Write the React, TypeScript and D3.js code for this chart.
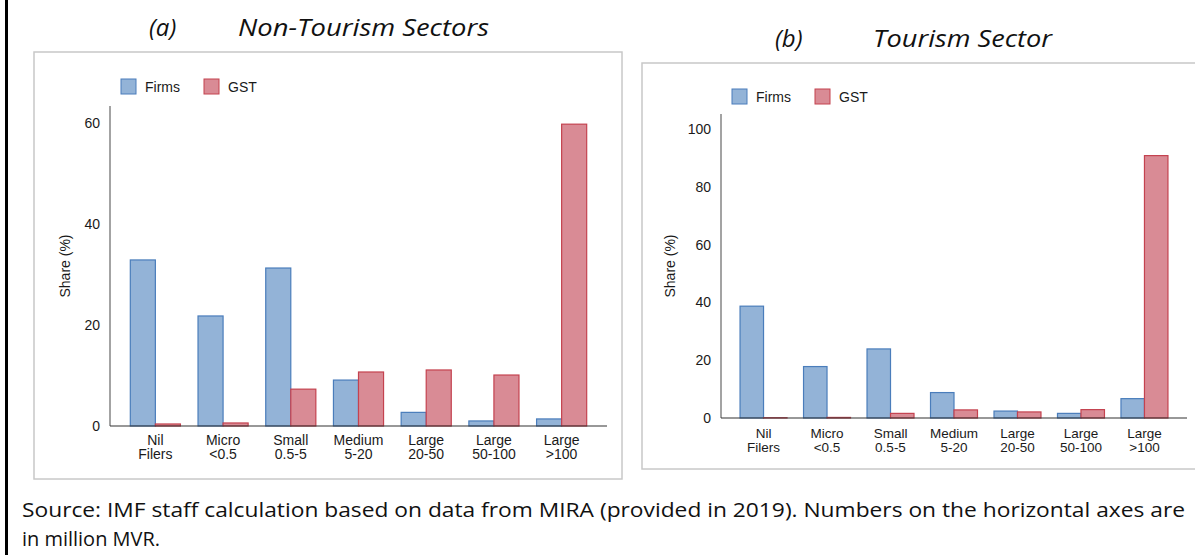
import React from "react";
import * as d3 from "d3";

// category labels (two lines each)
const categories = [
  ["Nil", "Filers"],
  ["Micro", "<0.5"],
  ["Small", "0.5-5"],
  ["Medium", "5-20"],
  ["Large", "20-50"],
  ["Large", "50-100"],
  ["Large", ">100"],
];
const seriesNames = ["Firms", "GST"];

// (a) non-tourism sectors, share (%)
const nonTourismFirms = [32.9, 21.8, 31.3, 9.1, 2.7, 1.0, 1.4];
const nonTourismGST = [0.4, 0.6, 7.3, 10.7, 11.1, 10.1, 59.8];
const nonTourismTicks = [0, 20, 40, 60];

// (b) tourism sector, share (%)
const tourismFirms = [38.7, 17.8, 23.9, 8.8, 2.4, 1.6, 6.7];
const tourismGST = [0.1, 0.2, 1.6, 2.8, 2.1, 2.9, 90.8];
const tourismTicks = [0, 20, 40, 60, 80, 100];

const fills = ["#93b3d7", "#d98b95"];
const strokes = ["#4a7dbb", "#c4424f"];

type PanelProps = {
  firms: number[];
  gst: number[];
  ticks: number[];
  yMax: number;
  box: [number, number, number, number];
  axisX: [number, number];
  axisY: [number, number];
  yTitleX: number;
  labelY: [number, number];
  labelSize: number;
  legend: [number, number];
};

function Panel(p: PanelProps) {
  const x0 = d3
    .scaleBand<number>()
    .domain(d3.range(categories.length))
    .range(p.axisX)
    .paddingInner(0.26)
    .paddingOuter(0.3);
  const x1 = d3
    .scaleBand<number>()
    .domain([0, 1])
    .range([0, x0.bandwidth()]);
  const y = d3.scaleLinear().domain([0, p.yMax]).range(p.axisY);
  const series = [p.firms, p.gst];
  const [bx, by, bw, bh] = p.box;
  const [lx, ly] = p.legend;

  return (
    <g fontFamily="'Liberation Sans', Arial, sans-serif" fill="#1a1a1a">
      <rect x={bx} y={by} width={bw} height={bh} fill="#fff" stroke="#c8c8c8" strokeWidth={1.5} />

      {/* legend */}
      {seriesNames.map((name, i) => (
        <g key={name} transform={`translate(${lx + i * 83},${ly})`}>
          <rect x={0} y={0} width={15} height={15} fill={fills[i]} stroke={strokes[i]} strokeWidth={1} />
          <text x={24} y={13} fontSize={14}>{name}</text>
        </g>
      ))}

      {/* bars */}
      {series.map((vals, s) =>
        vals.map((v, i) => (
          <rect
            key={`${s}-${i}`}
            x={(x0(i) as number) + (x1(s) as number)}
            y={y(v)}
            width={x1.bandwidth()}
            height={y(0) - y(v)}
            fill={fills[s]}
            stroke={strokes[s]}
            strokeWidth={1.2}
          />
        ))
      )}

      {/* axes */}
      <line x1={p.axisX[0]} x2={p.axisX[0]} y1={p.axisY[0]} y2={p.axisY[1]} stroke="#666" strokeWidth={1.2} />
      <line x1={p.axisX[0]} x2={p.axisX[1]} y1={y(0)} y2={y(0)} stroke="#333" strokeWidth={1.2} />

      {p.ticks.map((t) => (
        <text key={t} x={p.axisX[0] - 10} y={y(t)} dy="0.35em" textAnchor="end" fontSize={14}>
          {t}
        </text>
      ))}

      {categories.map((c, i) => {
        const cx = (x0(i) as number) + x0.bandwidth() / 2;
        return (
          <text key={i} textAnchor="middle" fontSize={p.labelSize}>
            <tspan x={cx} y={p.labelY[0]}>{c[0]}</tspan>
            <tspan x={cx} y={p.labelY[1]}>{c[1]}</tspan>
          </text>
        );
      })}

      <text
        transform={`translate(${p.yTitleX},266) rotate(-90)`}
        textAnchor="middle"
        dy="0.35em"
        fontSize={14}
      >
        Share (%)
      </text>
    </g>
  );
}

export default function App() {
  return (
    <svg
      width={1195}
      height={555}
      style={{ position: "absolute", left: 0, top: 0, background: "#fff" }}
    >
      <rect x={0} y={0} width={1195} height={555} fill="#fff" />
      <line x1={6.5} x2={6.5} y1={0} y2={555} stroke="#000" strokeWidth={3} />

      <g fontFamily="'Open Sans', sans-serif" fontStyle="italic" fontSize={24} fill="#111">
        <text x={149} y={36}>(a)</text>
        <text x={238} y={36} textLength={251} lengthAdjust="spacingAndGlyphs">Non-Tourism Sectors</text>
        <text x={775} y={47}>(b)</text>
        <text x={873} y={47} textLength={179} lengthAdjust="spacingAndGlyphs">Tourism Sector</text>
      </g>

      <Panel
        firms={nonTourismFirms}
        gst={nonTourismGST}
        ticks={nonTourismTicks}
        yMax={63.4}
        box={[34, 52, 588, 427]}
        axisX={[110, 607]}
        axisY={[426, 106]}
        yTitleX={65}
        labelY={[445, 459]}
        labelSize={14}
        legend={[121, 79]}
      />
      <Panel
        firms={tourismFirms}
        gst={tourismGST}
        ticks={tourismTicks}
        yMax={105.2}
        box={[642, 63, 560, 406]}
        axisX={[721, 1187]}
        axisY={[418, 114]}
        yTitleX={670}
        labelY={[438, 452]}
        labelSize={13.5}
        legend={[732, 89]}
      />

      <g fontFamily="'Open Sans', sans-serif" fontSize={20} fill="#111">
        <text x={22} y={517} textLength={1163} lengthAdjust="spacingAndGlyphs">
          Source: IMF staff calculation based on data from MIRA (provided in 2019). Numbers on the horizontal axes are
        </text>
        <text x={22} y={546} textLength={138} lengthAdjust="spacingAndGlyphs">in million MVR.</text>
      </g>
    </svg>
  );
}
